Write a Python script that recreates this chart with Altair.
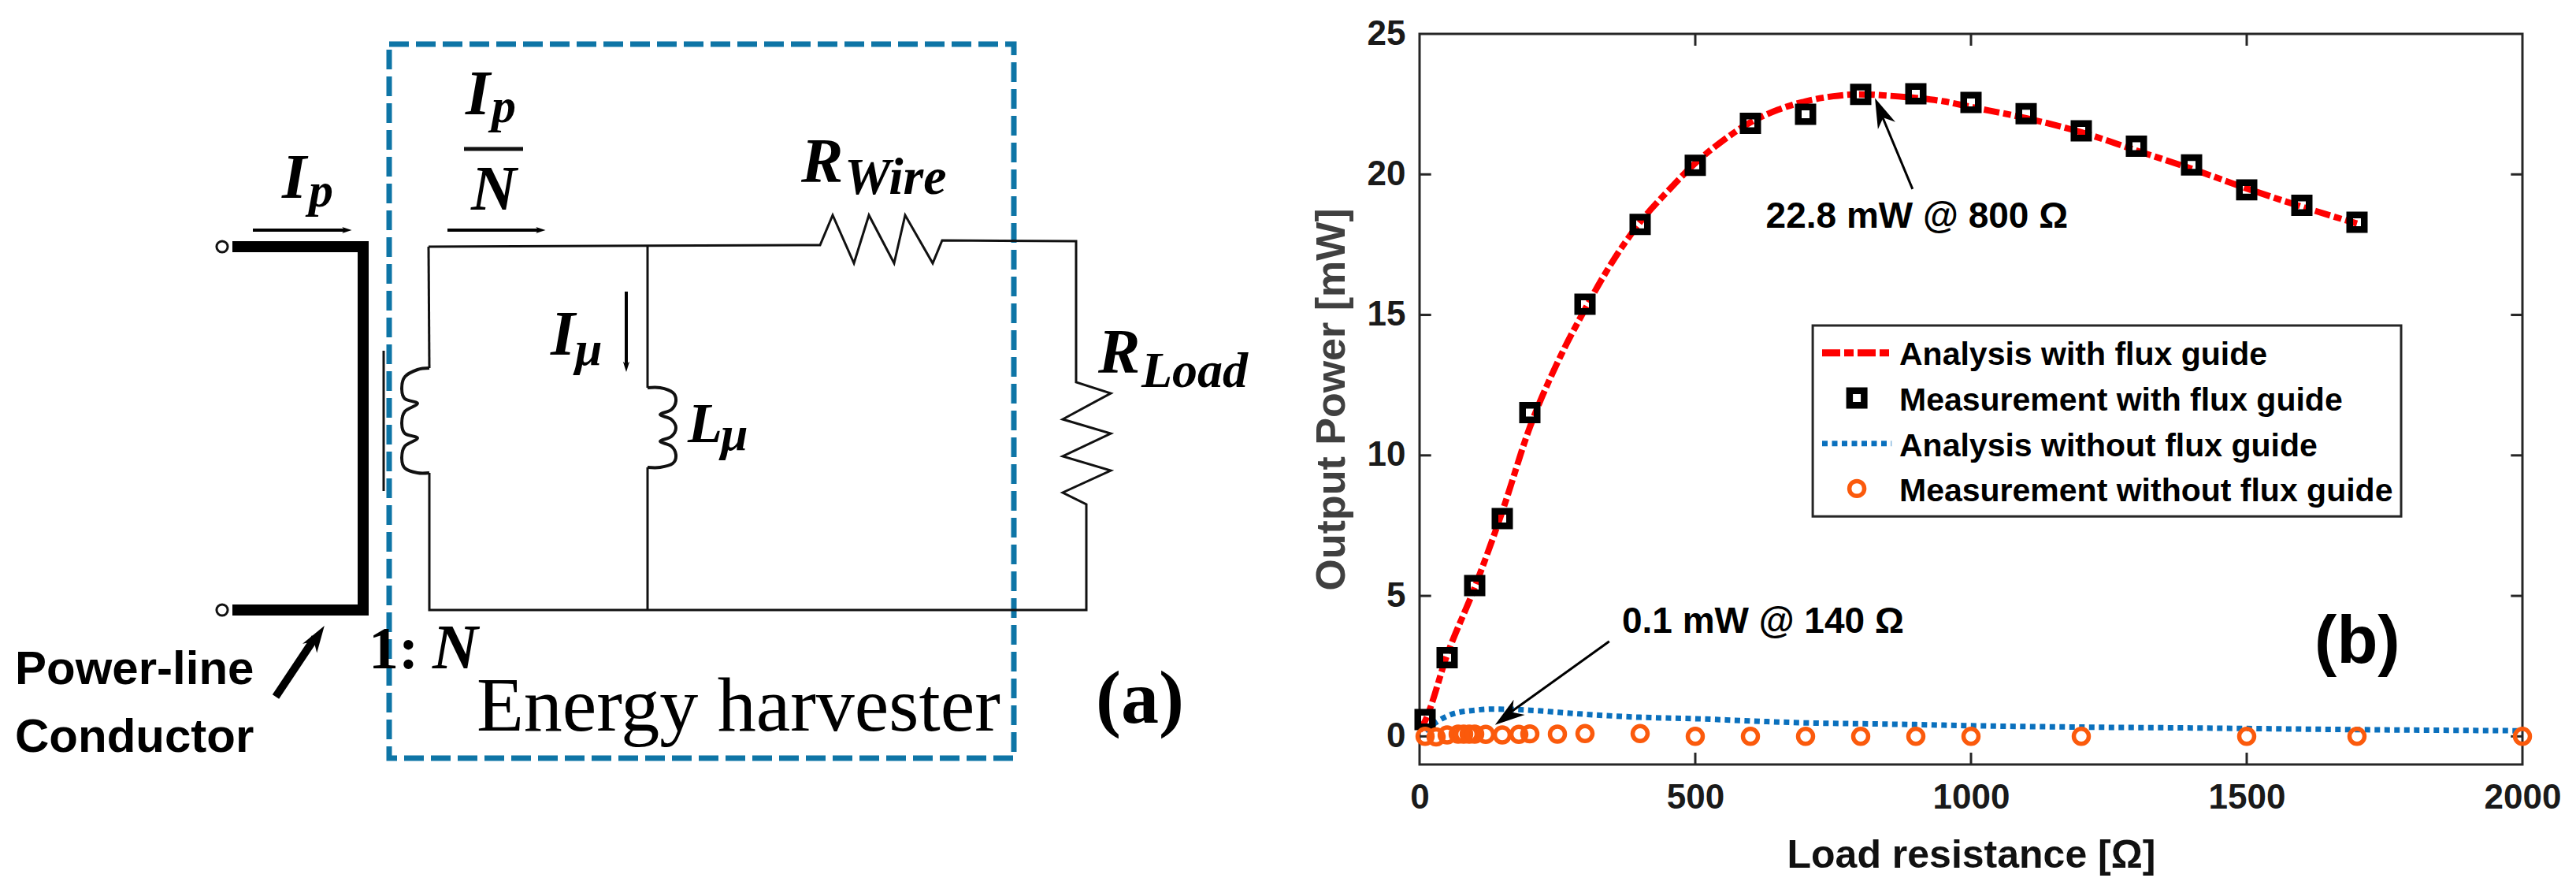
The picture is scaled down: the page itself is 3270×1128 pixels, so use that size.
import altair as alt
import pandas as pd

# ---------- chart (b) values ----------
x_meas_fg = [10, 50, 100, 150, 200, 300, 400, 500, 600, 700, 800, 900, 1000, 1100, 1200, 1300, 1400, 1500, 1600, 1700]
y_meas_fg = [0.6, 2.8, 5.37, 7.75, 11.52, 15.38, 18.22, 20.32, 21.82, 22.14, 22.85, 22.87, 22.56, 22.16, 21.55, 21.0, 20.34, 19.45, 18.9, 18.3]
x_an_fg = [0, 10, 50, 100, 150, 200, 250, 300, 350, 400, 450, 500, 550, 600, 650, 700, 750, 800, 850, 900, 950, 1000, 1100, 1200, 1300, 1400, 1500, 1600, 1700]
y_an_fg = [0.2, 0.55, 2.9, 5.3, 8.0, 11.0, 13.3, 15.2, 16.9, 18.3, 19.4, 20.4, 21.2, 21.85, 22.3, 22.6, 22.78, 22.85, 22.8, 22.72, 22.6, 22.4, 22.0, 21.5, 20.85, 20.2, 19.5, 18.85, 18.25]
x_an_no = [10, 30, 60, 100, 130, 170, 200, 290, 400, 500, 600, 700, 800, 900, 1000, 1200, 1400, 1500, 1700, 2000]
y_an_no = [0.2, 0.5, 0.8, 0.93, 0.97, 0.96, 0.93, 0.8, 0.68, 0.63, 0.55, 0.48, 0.45, 0.42, 0.38, 0.33, 0.3, 0.28, 0.24, 0.2]
x_meas_no = [10, 30, 50, 70, 80, 90, 100, 120, 150, 180, 200, 250, 300, 400, 500, 600, 700, 800, 900, 1000, 1200, 1500, 1700, 2000]
y_meas_no = [0.0, -0.02, 0.05, 0.08, 0.08, 0.08, 0.08, 0.07, 0.05, 0.07, 0.09, 0.08, 0.1, 0.1, 0.0, 0.0, 0.0, 0.0, 0.0, 0.0, 0.0, 0.0, 0.0, 0.0]
x_tick_values = [0, 500, 1000, 1500, 2000]
y_tick_values = [0, 5, 10, 15, 20, 25]
legend_labels = ["Analysis with flux guide", "Measurement with flux guide", "Analysis without flux guide", "Measurement without flux guide"]
legend_baselines = [13.21, 11.58, 9.97, 8.37]
RED, BLUE, ORANGE, INK = "#fe0000", "#0a70bd", "#fb5a0c", "#262626"

# ---------- diagram (a) outlines ----------
box_x = [494, 1287, 1287, 494, 494]
box_y = [53, 53, 959, 959, 53]
cond_x = [295, 461, 461, 295]
cond_y = [310, 310, 771, 771]
top_x = [544, 1041, 1057, 1084, 1103, 1135, 1149, 1184, 1196, 1366, 1366, 1410, 1349, 1410, 1349, 1410, 1349, 1379, 1379, 545, 545]
top_y = [310, 308, 270, 331, 270, 331, 270, 331, 302, 303, 482, 496, 529, 547, 576, 594, 622, 637, 771, 771, 597]
coil1_x = [545, 530, 514, 510, 514, 530, 514, 510, 514, 530, 514, 510, 514, 530, 545]
coil1_y = [597, 597, 591, 578, 563, 553, 547, 534, 519, 509, 503, 490, 475, 466, 464]
lead1_x = [545, 544]
lead1_y = [464, 310]
coil2_x = [822, 838, 854, 858, 852, 838, 852, 858, 852, 838, 852, 858, 854, 838, 822]
coil2_y = [489, 489, 495, 506, 517, 523, 529, 540, 551, 557, 563, 574, 585, 590, 590]
lead2a_y = [308, 489]
lead2b_y = [590, 771]
mid_x = [822, 822]
core_x = [487, 487]
core_y = [442, 620]
term_x = [282, 282]
term_y = [310, 771]
arrow_segments = [(321, 289, 438, 289, 4), (568, 289, 684, 289, 4), (795, 367, 795, 461, 4), (350, 881, 400, 806, 10)]
arrow_heads = [(440, 289, 90, 170), (686, 289, 90, 170), (795, 462, 180, 190), (402, 806, 33, 1300)]
frac_x = [589, 664]
frac_y = [186, 186]
diagram_texts = [
    (358, 248, "I", "Liberation Serif", 80, "bold", "italic"),
    (392, 259, "p", "Liberation Serif", 62, "bold", "italic"),
    (591, 142, "I", "Liberation Serif", 80, "bold", "italic"),
    (624, 152, "p", "Liberation Serif", 62, "bold", "italic"),
    (598, 263, "N", "Liberation Serif", 80, "bold", "italic"),
    (1017, 228, "R", "Liberation Serif", 80, "bold", "italic"),
    (1072, 243, "Wire", "Liberation Serif", 66, "bold", "italic"),
    (1394, 470, "R", "Liberation Serif", 80, "bold", "italic"),
    (1449, 488, "Load", "Liberation Serif", 64, "bold", "italic"),
    (699, 447, "I", "Liberation Serif", 80, "bold", "italic"),
    (730, 460, "μ", "Liberation Serif", 62, "bold", "italic"),
    (873, 558, "L", "Liberation Serif", 72, "bold", "italic"),
    (915, 568, "μ", "Liberation Serif", 62, "bold", "italic"),
    (468, 845, "1:", "Liberation Serif", 76, "bold", "normal"),
    (549, 845, "N", "Liberation Serif", 80, "bold", "italic"),
    (19, 865, "Power-line", "Liberation Sans", 60, "bold", "normal"),
    (19, 951, "Conductor", "Liberation Sans", 60, "bold", "normal"),
    (605, 924, "Energy harvester", "Liberation Serif", 98, "normal", "normal"),
    (1391, 914, "(a)", "Liberation Serif", 96, "bold", "normal"),
]

AX = alt.Scale(domain=[8, 1640], nice=False, zero=False)
AY = alt.Scale(domain=[967, 40], nice=False, zero=False)
HEAD = "M0,-1L0.6,0.9L0,0.35L-0.6,0.9Z"


def a_line(xs, ys, width=3, color="#111111", dash=None, interpolate="linear", join="miter"):
    df = pd.DataFrame({"x": xs, "y": ys, "o": range(len(xs))})
    kw = {"strokeDash": dash} if dash else {}
    return alt.Chart(df).mark_line(strokeWidth=width, color=color, interpolate=interpolate,
                                   strokeJoin=join, **kw).encode(
        x=alt.X("x:Q", scale=AX, axis=None), y=alt.Y("y:Q", scale=AY, axis=None), order="o:Q")


layers = [a_line(box_x, box_y, 7, "#0e75a6", [25, 9]),
          a_line(cond_x, cond_y, 14, "#000000"),
          a_line(top_x, top_y, 3),
          a_line(coil1_x, coil1_y, 4, interpolate="cardinal"),
          a_line(lead1_x, lead1_y, 3),
          a_line(coil2_x, coil2_y, 4, interpolate="cardinal"),
          a_line(mid_x, lead2a_y, 3),
          a_line(mid_x, lead2b_y, 3),
          a_line(core_x, core_y, 3),
          a_line(frac_x, frac_y, 5)]
for x0, y0, x1, y1, w in arrow_segments:
    layers.append(a_line([x0, x1], [y0, y1], w, "#000000"))
heads = pd.DataFrame(arrow_heads, columns=["x", "y", "a", "s"])
layers.append(alt.Chart(heads).mark_point(shape=HEAD, filled=True, color="#000000", opacity=1).encode(
    x=alt.X("x:Q", scale=AX, axis=None), y=alt.Y("y:Q", scale=AY, axis=None),
    angle=alt.Angle("a:Q", scale=None), size=alt.Size("s:Q", scale=None)))
layers.append(alt.Chart(pd.DataFrame({"x": term_x, "y": term_y})).mark_point(
    shape="circle", size=200, stroke="#111111", strokeWidth=3, fill="white", fillOpacity=1, opacity=1).encode(
    x=alt.X("x:Q", scale=AX, axis=None), y=alt.Y("y:Q", scale=AY, axis=None)))
for x, y, t, font, size, weight, style in diagram_texts:
    layers.append(alt.Chart(pd.DataFrame({"x": [x], "y": [y], "t": [t]})).mark_text(
        align="left", baseline="alphabetic", font=font, fontSize=size, fontWeight=weight,
        fontStyle=style, color="#000000").encode(
        x=alt.X("x:Q", scale=AX, axis=None), y=alt.Y("y:Q", scale=AY, axis=None), text="t:N"))

panel_a = alt.layer(*layers).properties(width=1632, height=927, view=alt.ViewBackground(stroke=None))

# ---------- chart (b) ----------
BX = alt.Scale(domain=[0, 2000], nice=False, zero=False)
BY = alt.Scale(domain=[-1, 25], nice=False, zero=False)
XN = alt.X("x:Q", scale=BX, axis=alt.Axis(
    values=x_tick_values, title="Load resistance [Ω]", domain=False, ticks=False, grid=False, format="d",
    labelFont="Liberation Sans", labelFontWeight="bold", labelFontSize=44, labelColor="#1a1a1a",
    labelPadding=20, labelFlush=False, labelOverlap=False,
    titleFont="Liberation Sans", titleFontWeight="bold", titleFontSize=50, titleColor="#111111", titlePadding=26))
YN = alt.Y("y:Q", scale=BY, axis=alt.Axis(
    values=y_tick_values, title="Output Power [mW]", domain=False, ticks=False, grid=False, format="d",
    labelFont="Liberation Sans", labelFontWeight="bold", labelFontSize=44, labelColor="#1a1a1a",
    labelPadding=18, labelFlush=False, labelOverlap=False,
    titleFont="Liberation Sans", titleFontWeight="bold", titleFontSize=52, titleColor="#404040", titlePadding=18))


def b_line(xs, ys, color, width, dash):
    return alt.Chart(pd.DataFrame({"x": xs, "y": ys})).mark_line(
        color=color, strokeWidth=width, strokeDash=dash, interpolate="monotone", strokeCap="butt").encode(x=XN, y=YN)


def b_square(xs, ys):
    return alt.Chart(pd.DataFrame({"x": xs, "y": ys})).mark_point(
        shape="square", size=342, stroke="#000000", strokeWidth=8.5, fillOpacity=0, opacity=1).encode(x=XN, y=YN)


def b_circle(xs, ys):
    return alt.Chart(pd.DataFrame({"x": xs, "y": ys})).mark_point(
        shape="circle", size=360, stroke=ORANGE, strokeWidth=5.5, fillOpacity=0, opacity=1).encode(x=XN, y=YN)


def b_text(x, y, t, size, weight="bold", color="#000000"):
    return alt.Chart(pd.DataFrame({"x": [x], "y": [y], "t": [t]})).mark_text(
        align="left", baseline="alphabetic", font="Liberation Sans", fontSize=size,
        fontWeight=weight, color=color).encode(x=XN, y=YN, text="t:N")


tick_df = pd.DataFrame(
    [{"x": v, "x2": v, "y": -1, "y2": -0.58} for v in x_tick_values[1:-1]]
    + [{"x": v, "x2": v, "y": 25, "y2": 24.58} for v in x_tick_values[1:-1]]
    + [{"x": 0, "x2": 21, "y": v, "y2": v} for v in y_tick_values[:-1]]
    + [{"x": 1979, "x2": 2000, "y": v, "y2": v} for v in y_tick_values[:-1]])
ticks = alt.Chart(tick_df).mark_rule(color=INK, strokeWidth=3).encode(x=XN, x2="x2:Q", y=YN, y2="y2:Q")

arrows = alt.Chart(pd.DataFrame({"x": [894, 344], "x2": [834, 150], "y": [19.48, 3.38], "y2": [22.3, 0.65]})).mark_rule(
    color="#000000", strokeWidth=3).encode(x=XN, x2="x2:Q", y=YN, y2="y2:Q")
arrow_tips = alt.Chart(pd.DataFrame({"x": [837, 160], "y": [22.2, 0.74], "a": [337, 234]})).mark_point(
    shape=HEAD, filled=True, color="#000000", opacity=1, size=1600).encode(
    x=XN, y=YN, angle=alt.Angle("a:Q", scale=None))

legend_box = alt.Chart(pd.DataFrame({"x": [713], "x2": [1780], "y": [14.62], "y2": [7.83]})).mark_rect(
    fill="white", stroke=INK, strokeWidth=3).encode(x=XN, x2="x2:Q", y=YN, y2="y2:Q")

layers_b = [ticks,
            b_line(x_an_fg, y_an_fg, RED, 8, [20, 5, 10, 5]),
            b_line(x_an_no, y_an_no, BLUE, 7, [7, 5.5]),
            b_square(x_meas_fg, y_meas_fg),
            b_circle(x_meas_no, y_meas_no),
            arrows, arrow_tips,
            b_text(628, 18.1, "22.8 mW @ 800 Ω", 46),
            b_text(367, 3.68, "0.1 mW @ 140 Ω", 46),
            b_text(1623, 2.62, "(b)", 85),
            legend_box,
            b_line([730, 856], [13.65, 13.65], RED, 9, [23, 5, 12, 5]),
            b_square([793], [12.04]),
            b_line([730, 856], [10.42, 10.42], BLUE, 7, [7, 5.5]),
            b_circle([793], [8.82])]
for label, base in zip(legend_labels, legend_baselines):
    layers_b.append(b_text(870, base, label, 41))

panel_b = alt.layer(*layers_b).properties(
    width=1400, height=927, view=alt.ViewBackground(stroke=INK, strokeWidth=3))

chart = alt.hconcat(panel_a, panel_b, spacing=22).properties(
    padding={"left": 0, "top": 11, "right": 0, "bottom": 0}, background="white")
chart.save("out.html", embed_options={"renderer": "svg", "actions": False})
